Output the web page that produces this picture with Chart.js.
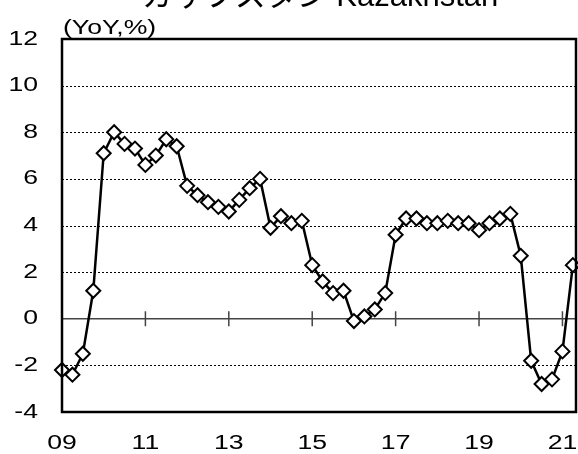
<!DOCTYPE html>
<html>
<head>
<meta charset="utf-8">
<script src="https://cdn.jsdelivr.net/npm/chart.js"></script>
<style>
  html, body { margin: 0; padding: 0; background: #fff; }
  #wrap { width: 578px; height: 454px; }
</style>
</head>
<body>
<div id="wrap"><canvas id="myChart" width="578" height="454"></canvas></div>
<script>
// quarterly real GDP growth, Kazakhstan
const quarters = [
  '09Q1','09Q2','09Q3','09Q4','10Q1','10Q2','10Q3','10Q4',
  '11Q1','11Q2','11Q3','11Q4','12Q1','12Q2','12Q3','12Q4',
  '13Q1','13Q2','13Q3','13Q4','14Q1','14Q2','14Q3','14Q4',
  '15Q1','15Q2','15Q3','15Q4','16Q1','16Q2','16Q3','16Q4',
  '17Q1','17Q2','17Q3','17Q4','18Q1','18Q2','18Q3','18Q4',
  '19Q1','19Q2','19Q3','19Q4','20Q1','20Q2','20Q3','20Q4',
  '21Q1','21Q2'
];
const growth = [
  -2.2, -2.4, -1.5, 1.2, 7.1, 8.0, 7.5, 7.3,
  6.6, 7.0, 7.7, 7.4, 5.7, 5.3, 5.0, 4.8,
  4.6, 5.1, 5.6, 6.0, 3.9, 4.4, 4.1, 4.2,
  2.3, 1.6, 1.1, 1.2, -0.1, 0.1, 0.4, 1.1,
  3.6, 4.3, 4.3, 4.1, 4.1, 4.2, 4.1, 4.1,
  3.8, 4.1, 4.3, 4.5, 2.7, -1.8, -2.8, -2.6,
  -1.4, 2.3
];
const yearLabels = ['09', '11', '13', '15', '17', '19', '21'];
const chartTitle = 'カザフスタン Kazakhstan';
const unitLabel = '(YoY,%)';

const yearTicks = yearLabels.map(y => quarters.indexOf(y + 'Q1'));

// the original's text is drawn wider than normal Arial
const STRETCH = 1.33;
const FONT = '20px "Liberation Sans"';

function wideText(ctx, text, x, y, align) {
  ctx.save();
  ctx.translate(x, y);
  ctx.scale(STRETCH, 1);
  ctx.textAlign = align;
  ctx.fillText(text, 0, 0);
  ctx.restore();
}

const frame = {
  id: 'frame',
  beforeDatasetsDraw(chart) {
    const { ctx, chartArea: a, scales: { x, y } } = chart;
    ctx.save();
    // dotted gridlines
    ctx.strokeStyle = '#000';
    ctx.lineWidth = 1;
    ctx.setLineDash([2, 2]);
    y.ticks.forEach(t => {
      if (t.value === 0 || t.value === y.min || t.value === y.max) return;
      const py = Math.round(y.getPixelForValue(t.value)) + 0.5;
      ctx.beginPath();
      ctx.moveTo(a.left, py);
      ctx.lineTo(a.right, py);
      ctx.stroke();
    });
    ctx.setLineDash([]);
    // zero line with year ticks
    const z = y.getPixelForValue(0);
    ctx.strokeStyle = '#444';
    ctx.lineWidth = 1.5;
    ctx.beginPath();
    ctx.moveTo(a.left, z);
    ctx.lineTo(a.right, z);
    ctx.stroke();
    x.ticks.forEach(t => {
      const px = x.getPixelForValue(t.value);
      if (px <= a.left + 2) return;
      ctx.beginPath();
      ctx.moveTo(px, z - 7.5);
      ctx.lineTo(px, z + 7.5);
      ctx.stroke();
    });
    ctx.restore();
  },
  afterDatasetsDraw(chart) {
    const { ctx, chartArea: a } = chart;
    ctx.save();
    ctx.strokeStyle = '#000';
    ctx.lineWidth = 2.5;
    ctx.strokeRect(a.left, a.top, a.right - a.left, a.bottom - a.top);
    ctx.restore();
  },
  afterDraw(chart) {
    const { ctx, chartArea: a, scales: { x, y } } = chart;
    ctx.save();
    ctx.fillStyle = '#000';

    // title, mostly cut off at the top like the original
    ctx.font = '31px "Liberation Sans", "Noto Sans CJK JP"';
    ctx.textAlign = 'center';
    ctx.textBaseline = 'alphabetic';
    ctx.fillText(chartTitle, 320, 6);

    ctx.font = FONT;
    wideText(ctx, unitLabel, a.left + 1, 34, 'left');

    // tick labels
    ctx.textBaseline = 'middle';
    y.ticks.forEach(t => {
      wideText(ctx, t.label, a.left - 24, y.getPixelForValue(t.value), 'right');
    });
    x.ticks.forEach(t => {
      wideText(ctx, t.label, x.getPixelForValue(t.value), 443, 'center');
    });
    ctx.restore();
  }
};

const ctx = document.getElementById('myChart');

new Chart(ctx, {
  type: 'line',
  data: {
    datasets: [{
      label: 'Kazakhstan',
      data: growth.map((v, i) => ({ x: i, y: v })),
      borderColor: '#000',
      borderWidth: 2.5,
      backgroundColor: '#fff',
      pointStyle: 'rectRot',
      pointRadius: 7,
      pointBorderWidth: 2,
      pointBorderColor: '#000',
      pointBackgroundColor: '#fff',
      tension: 0,
      clip: false
    }]
  },
  options: {
    responsive: false,
    animation: false,
    layout: {
      autoPadding: false,
      padding: { top: 39, right: 2, left: 0, bottom: 0 }
    },
    plugins: {
      legend: { display: false },
      title: { display: false },
      tooltip: { enabled: false }
    },
    scales: {
      x: {
        type: 'linear',
        min: 0,
        max: 49.3,
        afterFit: s => { s.height = 42; },
        afterBuildTicks: s => { s.ticks = yearTicks.map(v => ({ value: v })); },
        grid: { display: false, drawTicks: false },
        border: { display: false },
        ticks: {
          display: false,
          callback: v => yearLabels[yearTicks.indexOf(v)]
        }
      },
      y: {
        min: -4,
        max: 12,
        afterFit: s => { s.width = 62; },
        grid: { display: false, drawTicks: false },
        border: { display: false },
        ticks: {
          display: false,
          stepSize: 2
        }
      }
    }
  },
  plugins: [frame]
});
</script>
</body>
</html>
